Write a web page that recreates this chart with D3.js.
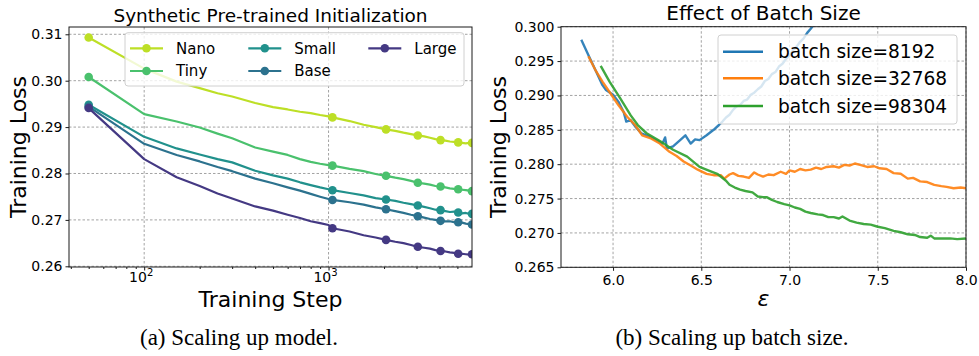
<!DOCTYPE html>
<html>
<head>
<meta charset="utf-8">
<script src="https://cdn.jsdelivr.net/npm/d3@7"></script>
<style>
  body { margin: 0; background: #fff; }
  text { font-family: "DejaVu Sans", sans-serif; fill: #000; }
</style>
</head>
<body>
<svg id="fig" width="979" height="356"></svg>
<script>
// ---------- (a) scaling up model ----------
const steps = [50, 100, 150, 200, 250, 300, 400, 500, 600, 700, 800, 900, 1000, 1050, 1300, 1550, 1800, 2050, 2300, 2550, 2800, 3050, 3300, 3550, 3800, 4050, 4300, 4550, 4800, 5050, 5300, 5550, 5800, 6000];
const lossNano  = [.3093, .3026, .2998, .2984, .2973, .2966, .2952, .2943, .2938, .2933, .2930, .2926, .2923, .2921, .2913, .2905, .2900, .2895, .2892, .2888, .2885, .2882, .2880, .2877, .2874, .2872, .2871, .2869, .2868, .2867, .2866, .2865, .2866, .2866];
const lossTiny  = [.3008, .2928, .2912, .2899, .2886, .2876, .2856, .2847, .2840, .2831, .2825, .2821, .2818, .2817, .2810, .2805, .2799, .2795, .2791, .2788, .2784, .2780, .2778, .2776, .2773, .2772, .2770, .2768, .2767, .2766, .2765, .2764, .2763, .2762];
const lossSmall = [.2948, .2879, .2854, .2841, .2831, .2824, .2806, .2796, .2789, .2781, .2775, .2770, .2766, .2764, .2758, .2753, .2747, .2744, .2741, .2737, .2734, .2731, .2728, .2725, .2722, .2721, .2719, .2717, .2718, .2716, .2714, .2715, .2713, .2713];
const lossBase  = [.2944, .2864, .2840, .2826, .2814, .2805, .2789, .2779, .2770, .2763, .2756, .2750, .2745, .2743, .2738, .2733, .2727, .2723, .2719, .2715, .2711, .2708, .2705, .2702, .2700, .2698, .2697, .2697, .2695, .2695, .2694, .2692, .2691, .2690];
const lossLarge = [.2941, .2831, .2792, .2773, .2757, .2746, .2729, .2720, .2711, .2704, .2697, .2693, .2689, .2682, .2675, .2667, .2662, .2657, .2653, .2650, .2646, .2642, .2640, .2638, .2635, .2633, .2632, .2630, .2629, .2627, .2627, .2626, .2625, .2626];
const modelNames  = ["Nano", "Tiny", "Small", "Base", "Large"];
const modelColors = ["#bddf26", "#4ac16d", "#21918c", "#2c728e", "#443983"];
const markerSteps = [50, 1050, 2050, 3050, 4050, 5050, 6000];
const stepTicks = [100, 1000];
const stepMinorTicks = [40, 50, 60, 70, 80, 90, 200, 300, 400, 500, 600, 700, 800, 900, 2000, 3000, 4000, 5000];
const lossTicksA = [0.26, 0.27, 0.28, 0.29, 0.30, 0.31];

// ---------- (b) scaling up batch size ----------
const batchNames  = ["batch size=8192", "batch size=32768", "batch size=98304"];
const batchColors = ["#1f77b4", "#ff7f0e", "#2ca02c"];
const eps8192  = [5.82, 5.86, 5.90, 5.94, 5.96, 6.00, 6.03, 6.06, 6.075, 6.10, 6.125, 6.16, 6.20, 6.25, 6.28, 6.295, 6.305, 6.34, 6.38, 6.41, 6.44, 6.465, 6.49, 6.53, 6.57, 6.60, 6.62, 6.64, 6.66, 6.68, 6.70, 6.72, 6.74, 6.76, 6.78, 6.80, 6.82, 6.84, 6.86, 6.88, 6.90, 6.92, 6.94, 6.96, 6.98, 7.00, 7.02, 7.04, 7.06, 7.08, 7.10, 7.12, 7.14, 7.18, 7.25];
const loss8192 = [.2981, .2959, .2937, .2915, .2908, .2901, .2891, .2876, .2862, .2864, .2855, .2845, .2841, .2834, .2830, .2839, .2823, .2826, .2835, .2842, .2830, .2836, .2835, .2842, .2850, .2857, .2862, .2868, .2872, .2879, .2884, .2886, .2892, .2894, .2901, .2904, .2909, .2913, .2921, .2924, .2931, .2934, .2942, .2946, .2953, .2958, .2966, .2971, .2978, .2983, .2991, .2997, .3004, .3012, .3025];
const eps32768  = [5.86, 5.90, 5.94, 5.98, 6.03, 6.08, 6.125, 6.165, 6.21, 6.265, 6.32, 6.36, 6.40, 6.44, 6.48, 6.53, 6.57, 6.61, 6.63, 6.66, 6.68, 6.71, 6.74, 6.77, 6.80, 6.82, 6.85, 6.88, 6.91, 6.95, 6.98, 7.00, 7.03, 7.06, 7.09, 7.12, 7.15, 7.18, 7.21, 7.25, 7.28, 7.31, 7.34, 7.37, 7.40, 7.44, 7.48, 7.51, 7.55, 7.59, 7.63, 7.67, 7.70, 7.74, 7.78, 7.82, 7.86, 7.89, 7.93, 7.97, 8.0];
const loss32768 = [.2957, .2937, .2920, .2905, .2886, .2869, .2857, .2842, .2838, .2830, .2818, .2812, .2804, .2798, .2792, .2786, .2784, .2784, .2779, .2785, .2787, .2783, .2782, .2780, .2788, .2785, .2782, .2785, .2784, .2789, .2786, .2791, .2789, .2793, .2791, .2792, .2795, .2793, .2796, .2797, .2795, .2799, .2798, .2801, .2799, .2796, .2797, .2794, .2793, .2787, .2786, .2779, .2780, .2775, .2774, .2770, .2768, .2767, .2765, .2766, .2765];
const eps98304  = [5.93, 5.98, 6.04, 6.10, 6.14, 6.19, 6.27, 6.34, 6.42, 6.49, 6.55, 6.59, 6.61, 6.64, 6.66, 6.69, 6.72, 6.75, 6.79, 6.82, 6.85, 6.87, 6.90, 6.93, 6.97, 7.00, 7.03, 7.06, 7.09, 7.12, 7.16, 7.19, 7.22, 7.25, 7.28, 7.30, 7.34, 7.38, 7.42, 7.46, 7.50, 7.54, 7.59, 7.63, 7.67, 7.71, 7.74, 7.78, 7.80, 7.82, 7.86, 7.91, 7.95, 8.0];
const loss98304 = [.2943, .2920, .2896, .2871, .2857, .2845, .2833, .2821, .2811, .2796, .2790, .2786, .2782, .2776, .2770, .2766, .2763, .2761, .2759, .2753, .2752, .2752, .2748, .2745, .2742, .2740, .2737, .2735, .2731, .2729, .2727, .2726, .2723, .2723, .2721, .2724, .2718, .2715, .2713, .2712, .2709, .2707, .2703, .2701, .2698, .2697, .2694, .2693, .2696, .2692, .2692, .2692, .2691, .2692];
const epsTicks = [6.0, 6.5, 7.0, 7.5, 8.0];
const lossTicksB = [0.265, 0.270, 0.275, 0.280, 0.285, 0.290, 0.295, 0.300];

const svg = d3.select("#fig");
const gridStyle = g => g.attr("stroke", "#8c8c8c").attr("stroke-width", 0.8).attr("stroke-dasharray", "2.5,2");

function frame(x0, x1, y0, y1, id) {
  svg.append("clipPath").attr("id", id)
    .append("rect").attr("x", x0).attr("y", y0).attr("width", x1 - x0).attr("height", y1 - y0);
}
function spines(x0, x1, y0, y1) {
  svg.append("rect").attr("x", x0).attr("y", y0).attr("width", x1 - x0).attr("height", y1 - y0)
    .attr("fill", "none").attr("stroke", "#1a1a1a").attr("stroke-width", 1);
}
function styleAxis(g) {
  g.select(".domain").remove();
  g.selectAll(".tick line").attr("stroke", "#1a1a1a");
  g.selectAll("text").attr("font-size", 14).attr("font-family", "DejaVu Sans");
}

// ================= panel (a) =================
const A = { x0: 69, x1: 472, y0: 27, y1: 267 };
const xA = d3.scaleLog().domain([39.1, 6000]).range([A.x0, A.x1]);
const yA = d3.scaleLinear().domain([0.25985, 0.31157]).range([A.y1, A.y0]);
frame(A.x0, A.x1, A.y0, A.y1, "clipA");

const gridA = svg.append("g").call(gridStyle);
gridA.selectAll(".gx").data(stepTicks).join("line")
  .attr("x1", d => xA(d)).attr("x2", d => xA(d)).attr("y1", A.y0).attr("y2", A.y1);
gridA.selectAll(".gy").data(lossTicksA).join("line")
  .attr("x1", A.x0).attr("x2", A.x1).attr("y1", d => yA(d)).attr("y2", d => yA(d));

const seriesA = [lossNano, lossTiny, lossSmall, lossBase, lossLarge];
const lineA = d3.line().x((d, i) => xA(steps[i])).y(d => yA(d));
const plotA = svg.append("g").attr("clip-path", "url(#clipA)");
seriesA.forEach((vals, k) => {
  plotA.append("path").datum(vals).attr("d", lineA)
    .attr("fill", "none").attr("stroke", modelColors[k]).attr("stroke-width", 2.2)
    .attr("stroke-linejoin", "round");
  plotA.selectAll(null).data(markerSteps).join("circle")
    .attr("cx", d => xA(d)).attr("cy", d => yA(vals[steps.indexOf(d)]))
    .attr("r", 4.3).attr("fill", modelColors[k]);
});

svg.append("g").attr("transform", `translate(0,${A.y1})`)
  .call(d3.axisBottom(xA).tickValues(stepMinorTicks).tickFormat("").tickSize(2)).call(styleAxis);
svg.append("g").attr("transform", `translate(0,${A.y1})`)
  .call(d3.axisBottom(xA).tickValues(stepTicks).tickFormat("").tickSize(3.5)).call(styleAxis);
const xlabA = svg.append("g").selectAll("text").data(stepTicks).join("text")
  .attr("x", d => xA(d) - 3).attr("y", 282).attr("text-anchor", "middle").attr("font-size", 14);
xlabA.append("tspan").text("10");
xlabA.append("tspan").attr("font-size", 10).attr("dy", -6).text(d => Math.round(Math.log10(d)));
svg.append("g").attr("transform", `translate(${A.x0},0)`)
  .call(d3.axisLeft(yA).tickValues(lossTicksA).tickFormat(d3.format(".2f")).tickSize(3.5).tickPadding(3))
  .call(styleAxis);
spines(A.x0, A.x1, A.y0, A.y1);

svg.append("text").attr("x", (A.x0 + A.x1) / 2).attr("y", 22).attr("text-anchor", "middle")
  .attr("font-size", 18.5).text("Synthetic Pre-trained Initialization");
svg.append("text").attr("x", (A.x0 + A.x1) / 2).attr("y", 307).attr("text-anchor", "middle")
  .attr("font-size", 22).text("Training Step");
svg.append("text").attr("transform", `translate(26,${(A.y0 + A.y1) / 2}) rotate(-90)`)
  .attr("text-anchor", "middle").attr("font-size", 22).text("Training Loss");

// legend (a): 3 columns, filled column-wise
const legA = svg.append("g");
legA.append("rect").attr("x", 125).attr("y", 32.7).attr("width", 339).attr("height", 53.3).attr("rx", 3)
  .attr("fill", "#fff").attr("fill-opacity", 0.8).attr("stroke", "#d0d0d0");
const colX = [130, 248.3, 368.3];
const rowY = [48.3, 71];
modelNames.forEach((name, k) => {
  const cx = colX[Math.floor(k / 2)], cy = rowY[k % 2];
  legA.append("line").attr("x1", cx).attr("x2", cx + 33).attr("y1", cy).attr("y2", cy)
    .attr("stroke", modelColors[k]).attr("stroke-width", 2.2);
  legA.append("circle").attr("cx", cx + 16.5).attr("cy", cy).attr("r", 4.3).attr("fill", modelColors[k]);
  legA.append("text").attr("x", cx + 46).attr("y", cy + 5.3).attr("font-size", 15).text(name);
});

// ================= panel (b) =================
const B = { x0: 561, x1: 966, y0: 26.7, y1: 267.3 };
const xB = d3.scaleLinear().domain([5.705, 8.0]).range([B.x0, B.x1]);
const yB = d3.scaleLinear().domain([0.265, 0.300]).range([B.y1, B.y0]);
frame(B.x0, B.x1, B.y0, B.y1, "clipB");

const gridB = svg.append("g").call(gridStyle);
gridB.selectAll(".gx").data(epsTicks).join("line")
  .attr("x1", d => xB(d)).attr("x2", d => xB(d)).attr("y1", B.y0).attr("y2", B.y1);
gridB.selectAll(".gy").data(lossTicksB).join("line")
  .attr("x1", B.x0).attr("x2", B.x1).attr("y1", d => yB(d)).attr("y2", d => yB(d));

const seriesB = [[eps8192, loss8192], [eps32768, loss32768], [eps98304, loss98304]];
const plotB = svg.append("g").attr("clip-path", "url(#clipB)");
seriesB.forEach(([xs, ys], k) => {
  plotB.append("path").datum(ys)
    .attr("d", d3.line().x((d, i) => xB(xs[i])).y(d => yB(d)))
    .attr("fill", "none").attr("stroke", batchColors[k]).attr("stroke-width", 2.4)
    .attr("stroke-opacity", 0.9).attr("stroke-linejoin", "round");
});

svg.append("g").attr("transform", `translate(0,${B.y1})`)
  .call(d3.axisBottom(xB).tickValues(epsTicks).tickFormat(d3.format(".1f")).tickSize(3.5).tickPadding(4))
  .call(styleAxis);
svg.append("g").attr("transform", `translate(${B.x0},0)`)
  .call(d3.axisLeft(yB).tickValues(lossTicksB).tickFormat(d3.format(".3f")).tickSize(3.5).tickPadding(3))
  .call(styleAxis);
spines(B.x0, B.x1, B.y0, B.y1);

svg.append("text").attr("x", (B.x0 + B.x1) / 2).attr("y", 20).attr("text-anchor", "middle")
  .attr("font-size", 20).text("Effect of Batch Size");
svg.append("text").attr("x", (B.x0 + B.x1) / 2).attr("y", 306).attr("text-anchor", "middle")
  .attr("font-size", 22).attr("font-style", "italic").text("ε");
svg.append("text").attr("transform", `translate(506,${(B.y0 + B.y1) / 2}) rotate(-90)`)
  .attr("text-anchor", "middle").attr("font-size", 22).text("Training Loss");

const legB = svg.append("g");
legB.append("rect").attr("x", 718).attr("y", 35).attr("width", 239).attr("height", 89).attr("rx", 3)
  .attr("fill", "#fff").attr("fill-opacity", 0.8).attr("stroke", "#d0d0d0");
const rowYB = [51.7, 78.3, 106];
batchNames.forEach((name, k) => {
  legB.append("line").attr("x1", 723).attr("x2", 763).attr("y1", rowYB[k]).attr("y2", rowYB[k])
    .attr("stroke", batchColors[k]).attr("stroke-width", 2.4);
  legB.append("text").attr("x", 778).attr("y", rowYB[k] + 6.5).attr("font-size", 18.6).text(name);
});

// ---------- captions ----------
const caps = [["(a) Scaling up model.", 239], ["(b) Scaling up batch size.", 732]];
svg.selectAll(".cap").data(caps).join("text")
  .attr("x", d => d[1]).attr("y", 345).attr("text-anchor", "middle")
  .attr("font-size", 23).style("font-family", "Liberation Serif")
  .text(d => d[0]);
</script>
</body>
</html>
